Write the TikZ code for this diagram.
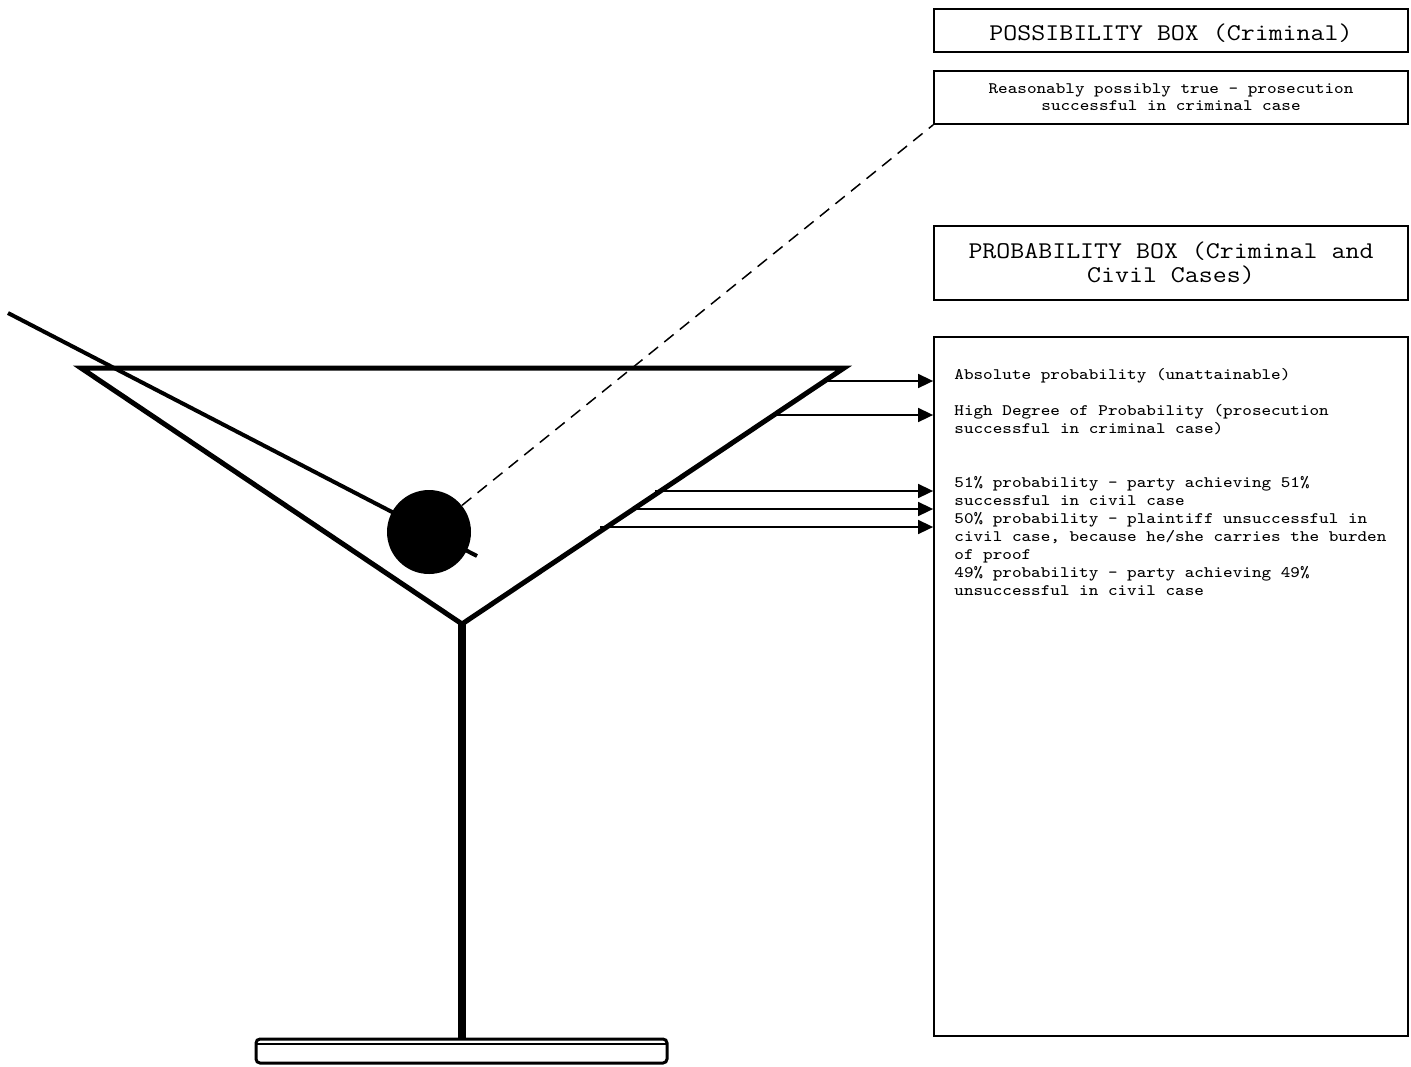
\documentclass[tikz,border=0pt]{standalone}
\usepackage{fontspec}
\setmainfont[FakeStretch=1.13]{Latin Modern Mono}
\usetikzlibrary{arrows.meta}
\begin{document}
\begin{tikzpicture}[x=0.5pt,y=-0.5pt,
  box/.style={draw, line width=0.9pt, minimum width=237pt, inner sep=0pt, align=center},
  glass/.style={line width=2.5pt, line join=miter},
  arr/.style={line width=0.8pt, -{Triangle[length=7.5pt,width=7pt]}},
  dashline/.style={line width=0.75pt, dash pattern=on 6pt off 4pt}]
\useasboundingbox (0,0) rectangle (1411,1066);
% boxes
\node[box, minimum height=21.5pt, text height=11.5pt, text depth=2pt, font=\fontsize{12}{14}\selectfont] (poss) at (1171,30.5) {POSSIBILITY BOX (Criminal)};
\node[box, minimum height=26.5pt, font=\fontsize{8}{8.5}\selectfont] (reas) at (1171,97.5) {Reasonably possibly true - prosecution\\successful in criminal case};
\node[box, minimum height=37pt, font=\fontsize{12}{12}\selectfont] (probt) at (1171,263) {PROBABILITY BOX (Criminal and\\Civil Cases)};
\node[box, minimum height=349.5pt] (big) at (1171,686.5) {};
\node[anchor=north west, inner sep=0pt, align=left, font=\fontsize{8}{9}\selectfont] (bt) at (954,368)
 {Absolute probability (unattainable)\\[9pt]
  High Degree of Probability (prosecution\\
  successful in criminal case)\\[18pt]
  51\% probability - party achieving 51\%\\
  successful in civil case\\
  50\% probability - plaintiff unsuccessful in\\
  civil case, because he/she carries the burden\\
  of proof\\
  49\% probability - party achieving 49\%\\
  unsuccessful in civil case};
% glass
\coordinate (tl) at (81,368);
\coordinate (tr) at (844,368);
\coordinate (bv) at (462,624);
\draw[glass] (tl) -- (tr) -- (bv) -- cycle;
\draw[line width=4pt] (bv) -- (462,1040);
\draw[line width=1.5pt, rounded corners=2pt] (256,1039) rectangle (667,1063);
\draw[line width=1pt] (257,1044) -- (666,1044);
% toothpick and olive
\coordinate (tp1) at (8,313);
\coordinate (tp2) at (477,556);
\draw[line width=2pt] (tp1) -- (tp2);
\node[circle, fill, inner sep=0pt, minimum size=42pt] (olive) at (429,532) {};
\draw[dashline] (olive) -- (reas.south west);
% arrows
\coordinate (a1) at (827,381);
\coordinate (a2) at (776,415);
\coordinate (a3) at (655,491);
\coordinate (a4) at (636,509);
\coordinate (a5) at (600,527);
\foreach \c in {a1,a2,a3,a4,a5}
  \draw[arr] (\c) -- (\c -| big.west);
\end{tikzpicture}
\end{document}
